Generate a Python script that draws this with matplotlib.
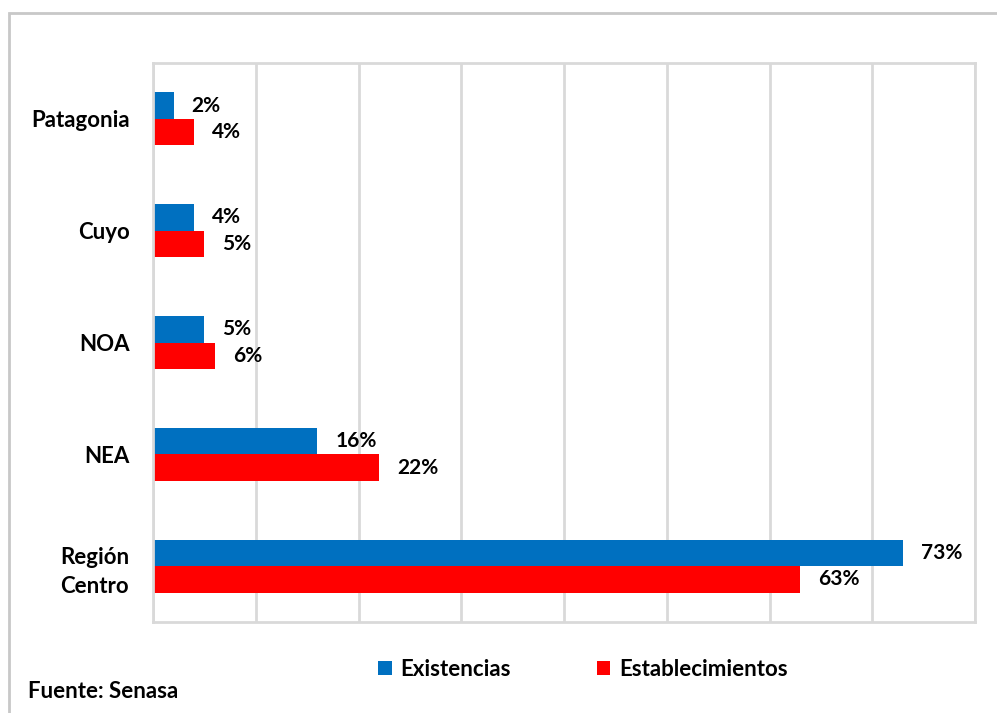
import numpy as np
import matplotlib.pyplot as plt
from matplotlib.patches import Rectangle

plt.rcParams['font.family'] = ['Lato', 'DejaVu Sans']
plt.rcParams['font.weight'] = 'bold'

regiones = ["Región\nCentro", "NEA", "NOA", "Cuyo", "Patagonia"]
existencias = [73, 16, 5, 4, 2]
establecimientos = [63, 22, 6, 5, 4]

azul = "#0070C0"
rojo = "#FF0000"
gris = "#D9D9D9"

fig = plt.figure(figsize=(9.97, 7.13), dpi=100)
ax = fig.add_axes([153 / 997, 1 - 622 / 713, (975 - 153) / 997, (622 - 63) / 713])

y = np.arange(len(regiones))
h = 0.237
b1 = ax.barh(y + h / 2, existencias, height=h, color=azul, label="Existencias")
b2 = ax.barh(y - h / 2, establecimientos, height=h, color=rojo, label="Establecimientos")

for bars, vals in ((b1, existencias), (b2, establecimientos)):
    for bar, v in zip(bars, vals):
        ax.annotate(f"{v}%", (bar.get_width(), bar.get_y() + bar.get_height() / 2),
                    xytext=(18, 0), textcoords="offset pixels",
                    va="center", ha="left", fontsize=15, fontweight="bold")

ax.set_xlim(0, 80)
ax.set_ylim(-0.5, len(regiones) - 0.5)
ax.set_xticks(np.arange(0, 81, 10))
ax.set_xticklabels([])
ax.tick_params(axis="x", length=0)
ax.tick_params(axis="y", length=0, pad=17)
ax.set_yticks(y)
ax.set_yticklabels(regiones, fontsize=16, fontweight="bold", ha="right",
                   multialignment="center", linespacing=1.45)
ax.grid(axis="x", color=gris, linewidth=2)
ax.set_axisbelow(True)
for s in ax.spines.values():
    s.set_color(gris)
    s.set_linewidth(2)

# marco exterior del gráfico
fig.patches.append(Rectangle((9 / 997, -0.1), 1.2, 1 - 13 / 713 + 0.1,
                             transform=fig.transFigure, fill=False,
                             edgecolor="#C8C8C8", linewidth=2))

fig.legend(handles=[b1, b2], loc="center", bbox_to_anchor=(583 / 997, 1 - 669 / 713),
           ncol=2, frameon=False, fontsize=16, handlelength=0.6, handleheight=0.6,
           handletextpad=0.4, columnspacing=3.85)

fig.text(28 / 997, 1 - 691 / 713, "Fuente: Senasa", fontsize=16, fontweight="bold",
         va="center", ha="left")

fig.savefig("out.png", dpi=100)
